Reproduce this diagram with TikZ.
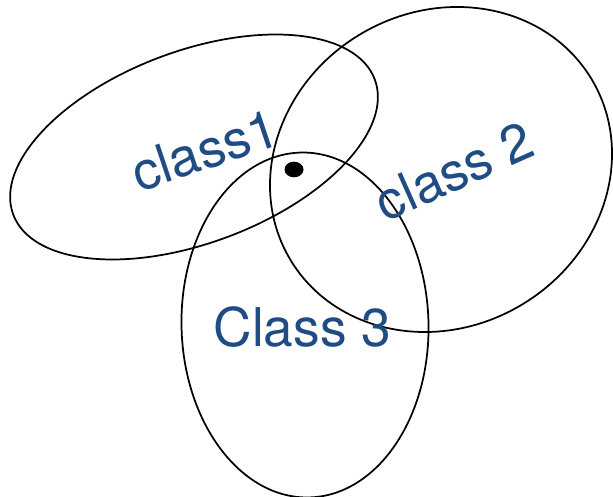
\documentclass[tikz,border=0pt]{standalone}
\usepackage{fontspec}
\setmainfont{TeX Gyre Heros}
\usetikzlibrary{shapes.geometric}
\definecolor{labelblue}{RGB}{32,76,132}

\begin{document}
\begin{tikzpicture}[
			x=0.75pt, y=0.75pt,
			region/.style={
				ellipse, draw=black, line width=1.3pt,
				inner sep=0pt, outer sep=0pt
			},
			sample/.style={
				ellipse, fill=black, draw=none,
				inner sep=0pt,
				minimum width=14.25pt, minimum height=11.7pt
			},
			lbl/.style={
				text=labelblue, inner sep=0pt,
				font=\fontsize{40}{48}\selectfont
			}
			]
			
			\useasboundingbox (0, 0) rectangle (613, 496);
			
			%% ── Class regions ───────────────────────────────────────────────────
			\node[region, minimum width=289.5pt, minimum height=144pt, rotate=20.5]
				(cls1) at (194, 349) {};
			\node[region, minimum width=263.4pt, minimum height=236.25pt, rotate=31]
				(cls2) at (441, 326.5) {};
			\node[region, minimum width=185.25pt, minimum height=258.75pt, rotate=1.4]
				(cls3) at (305, 171) {};
			
			%% ── Sample point in the overlap ─────────────────────────────────────
			\node[sample] (pt) at (294, 326.5) {};
			
			%% ── Labels ──────────────────────────────────────────────────────────
			\node[lbl, rotate=18.5] (lab1) at (205, 346) {class1};
			\node[lbl, rotate=24] (lab2) at (454, 325) {class 2};
			\node[lbl] (lab3) at (302.5, 168.5) {Class 3};
			
		\end{tikzpicture}
\end{document}
